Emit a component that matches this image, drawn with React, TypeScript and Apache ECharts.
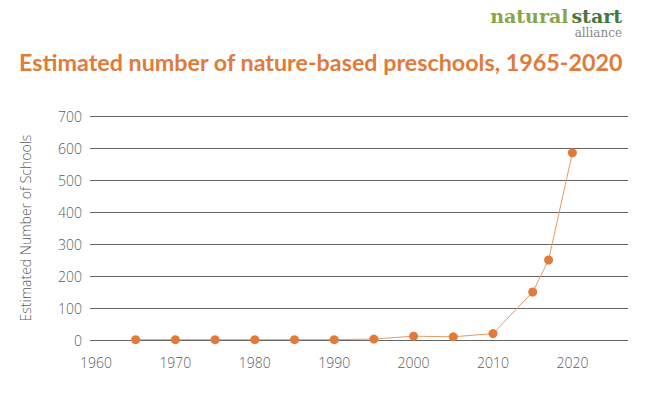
import React, { useEffect, useRef } from "react";
import * as echarts from "echarts";

const years = [1965, 1970, 1975, 1980, 1985, 1990, 1995, 2000, 2005, 2010, 2015, 2017, 2020];
const schools = [1, 1, 1, 1, 1, 1, 3, 12, 10, 20, 150, 250, 585];
const xTickYears = [1960, 1970, 1980, 1990, 2000, 2010, 2020];
const titleText = "Estimated number of nature-based preschools, 1965-2020";
const yAxisTitle = "Estimated Number of Schools";

export default function App() {
  const ref = useRef<HTMLDivElement>(null);
  useEffect(() => {
    if (!ref.current) return;
    const chart = echarts.init(ref.current, null, { renderer: "svg" });
    const orange = "#E07B39";
    const labelFont = { color: "#5c5c5c", fontFamily: "Open Sans", fontSize: 14, fontWeight: 300 as any };
    chart.setOption({
      animation: false,
      backgroundColor: "#ffffff",
      title: {
        text: titleText,
        left: 14,
        top: 45,
        textStyle: { color: orange, fontFamily: "Lato", fontWeight: "bold", fontSize: 23.3 },
      },
      graphic: [
        {
          type: "text",
          right: 26,
          top: 6,
          style: {
            rich: {
              a: { fill: "#86a64a", fontFamily: "DejaVu Serif", fontSize: 19, fontWeight: "bold", padding: [0, 3, 0, 0] },
              b: { fill: "#47773a", fontFamily: "DejaVu Serif", fontSize: 19, fontWeight: "bold" },
            },
            text: "{a|natural}{b|start}",
          } as any,
        },
        {
          type: "text",
          right: 26,
          top: 27,
          style: { text: "alliance", fill: "#888888", fontFamily: "DejaVu Serif", fontSize: 12 },
        },
      ],
      grid: { left: 90, right: 20, top: 116, bottom: 55 },
      xAxis: {
        type: "value",
        min: 1959.25,
        max: 2027,
        axisLine: { show: false },
        axisTick: { show: false },
        splitLine: { show: false },
        axisLabel: { ...labelFont, margin: 15, customValues: xTickYears, formatter: (v: number) => String(v) },
      },
      yAxis: {
        type: "value",
        min: 0,
        max: 700,
        interval: 100,
        name: yAxisTitle,
        nameLocation: "middle",
        nameGap: 58,
        nameTextStyle: { color: "#5c5c5c", fontFamily: "Open Sans", fontSize: 14, fontWeight: 300 as any },
        axisLine: { show: false },
        axisTick: { show: false },
        axisLabel: { ...labelFont, margin: 8 },
        splitLine: { lineStyle: { color: "#666666", width: 1 } },
      },
      series: [
        {
          type: "line",
          data: years.map((y, i) => [y, schools[i]]),
          symbol: "circle",
          symbolSize: 9,
          itemStyle: { color: orange },
          lineStyle: { color: "#E59A62", width: 1 },
        },
      ],
    });
    return () => chart.dispose();
  }, []);
  return <div ref={ref} style={{ width: 648, height: 395, position: "absolute", left: 0, top: 0 }} />;
}
